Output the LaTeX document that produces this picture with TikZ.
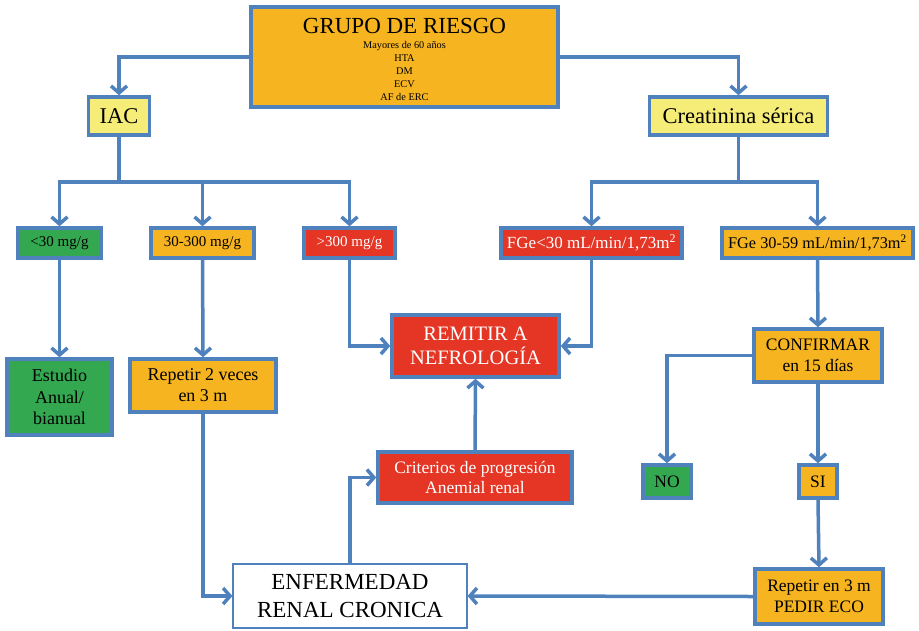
\documentclass[tikz,border=0pt]{standalone}
\usepackage{fontspec}
\setmainfont{Liberation Serif}
\usetikzlibrary{arrows.meta}

\definecolor{lineblue}{RGB}{79,129,189}
\definecolor{boxorange}{RGB}{246,180,32}
\definecolor{boxyellow}{RGB}{246,236,120}
\definecolor{boxgreen}{RGB}{52,168,80}
\definecolor{boxred}{RGB}{228,53,37}

% text size helper, always in the serif face
\newcommand{\boxfont}[1]{\rmfamily\fontsize{#1}{1.18\dimexpr#1pt\relax}\selectfont}

\tikzset{
  box/.style={draw=lineblue, line width=3.5pt, inner sep=0pt, align=center,
    text=black},
  orangebox/.style={box, fill=boxorange},
  yellowbox/.style={box, fill=boxyellow},
  greenbox/.style={box, fill=boxgreen},
  redbox/.style={box, fill=boxred, text=white},
  conn/.style={draw=lineblue, line width=3.5pt},
  arr/.style={conn, -{Straight Barb[length=7pt,width=16pt,line width=3.5pt]}},
}

\begin{document}
\begin{tikzpicture}[x=1pt,y=-1pt]
\useasboundingbox (0,0) rectangle (919,630);

% risk group box
\node[orangebox, minimum width=307, minimum height=100] (grupo) at (404.5,57) {};
\node[align=center, inner sep=0pt, font=\rmfamily\fontsize{10.3}{13}\selectfont] (grupotxt) at (404.5,59)
  {{\fontsize{23}{24}\selectfont GRUPO DE RIESGO}\\[2pt]
   Mayores de 60 años\\HTA\\DM\\ECV\\AF de ERC};

% first level
\node[yellowbox, minimum width=61, minimum height=38, font=\boxfont{22.5}] (iac) at (119,116) {IAC};
\node[yellowbox, minimum width=178, minimum height=38, font=\boxfont{22.5}] (crea) at (738.5,116) {Creatinina sérica};

% albuminuria ranges
\node[greenbox, minimum width=83, minimum height=30, font=\boxfont{15}] (lt30) at (59.5,243) {<30 mg/g};
\node[orangebox, minimum width=103, minimum height=30, font=\boxfont{15}] (mid) at (202.5,243) {30-300 mg/g};
\node[redbox, minimum width=91, minimum height=30, font=\boxfont{15}] (gt300) at (349.5,243) {>300 mg/g};

% filtration ranges
\node[redbox, minimum width=181, minimum height=30, font=\boxfont{17}] (fge30) at (591.5,243) {FGe<30 mL/min/1,73m\textsuperscript{2}};
\node[orangebox, minimum width=191, minimum height=30, font=\boxfont{16.3}] (fge59) at (817.5,243) {FGe 30-59 mL/min/1,73m\textsuperscript{2}};

% lower boxes
\node[greenbox, minimum width=105, minimum height=76, font=\boxfont{18}] (estudio) at (59.5,397) {Estudio\\Anual/\\bianual};
\node[orangebox, minimum width=146, minimum height=53, font=\boxfont{18}] (rep2) at (203,385.5) {Repetir 2 veces\\en 3 m};
\node[redbox, minimum width=167, minimum height=62, font=\boxfont{20.5}] (remitir) at (475.5,346) {REMITIR A\\NEFROLOGÍA};
\node[redbox, minimum width=194, minimum height=51, font=\boxfont{17.5}] (crit) at (475,477.5) {Criterios de progresión\\Anemial renal};
\node[orangebox, minimum width=128, minimum height=53, font=\boxfont{17.5}] (confirm) at (818,355.5) {CONFIRMAR\\en 15 días};
\node[greenbox, minimum width=48, minimum height=33, font=\boxfont{17.5}] (no) at (667,481.5) {NO};
\node[orangebox, minimum width=38, minimum height=33, font=\boxfont{17.5}] (si) at (818,481.5) {SI};
\node[orangebox, minimum width=128, minimum height=55, font=\boxfont{17.5}] (rep3) at (819,596.5) {Repetir en 3 m\\PEDIR ECO};
\node[box, fill=white, line width=1.2pt, minimum width=234, minimum height=64, font=\boxfont{23}] (enf) at (350,596) {ENFERMEDAD\\RENAL CRONICA};

% junctions of the two branches
\coordinate (jl) at (119,182);
\coordinate (jr) at (738.5,182);

% connectors
\draw[arr] (grupo.west) -| (iac.north);
\draw[arr] (grupo.east) -| (crea.north);

\draw[conn] (iac.south) -- (jl);
\draw[arr] (jl) -| (lt30.north);
\draw[arr] (jl) -| (mid.north);
\draw[arr] (jl) -| (gt300.north);

\draw[conn] (crea.south) -- (jr);
\draw[arr] (jr) -| (fge30.north);
\draw[arr] (jr) -| (fge59.north);

\draw[arr] (lt30.south) -- (estudio.north);
\draw[arr] (mid.south) -- (rep2.north);
\draw[arr] (gt300.south) |- (remitir.west);
\draw[arr] (fge30.south) |- (remitir.east);

\draw[arr] (fge59.south) -- (confirm.north);
\draw[arr] (confirm.west) -| (no.north);
\draw[arr] (confirm.south) -- (si.north);
\draw[arr] (si.south) -- (rep3.north);

\draw[arr] (rep2.south) |- (enf.west);
\draw[arr] (rep3.west) -- (enf.east);
\draw[arr] (enf.north) |- (crit.west);
\draw[arr] (crit.north) -- (remitir.south);
\end{tikzpicture}
\end{document}
